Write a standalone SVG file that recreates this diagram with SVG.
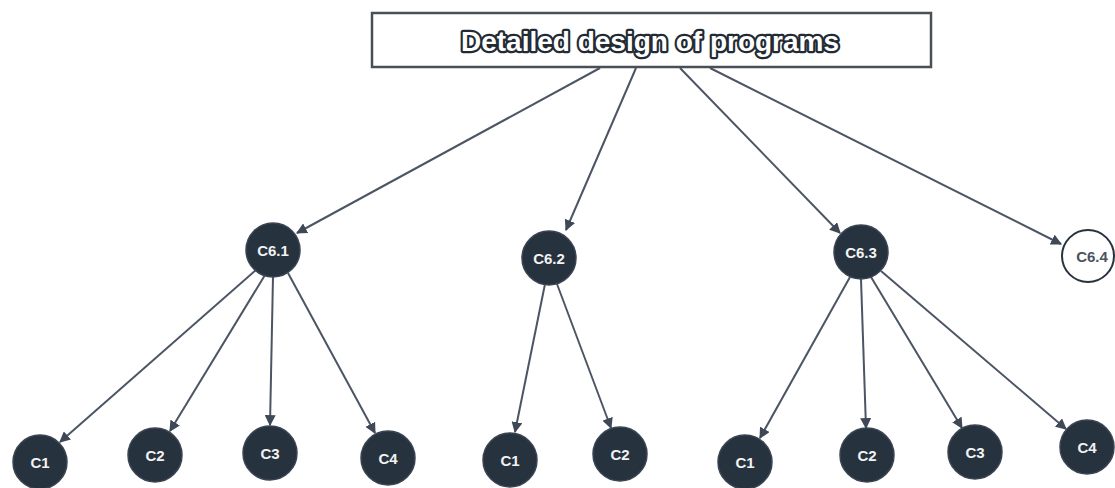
<svg xmlns="http://www.w3.org/2000/svg" width="1115" height="488" viewBox="0 0 1115 488">
<style>
.edge{stroke:#4b5563;stroke-width:2;fill:none;marker-end:url(#ah)}
.node{fill:#27323f;stroke:#3a4452;stroke-width:1.5}
.lbl{font-family:"Liberation Sans",Arial,sans-serif;font-weight:bold;font-size:15px;fill:#f2f2f2;text-anchor:middle;dominant-baseline:central}
.title{font-family:"Liberation Sans",Arial,sans-serif;font-weight:bold;font-size:28px;fill:#ffffff;stroke:#222a33;stroke-width:4.5;paint-order:stroke;stroke-linejoin:round;text-anchor:middle;dominant-baseline:central}
</style>
<defs>
<marker id="ah" viewBox="0 0 10 10" refX="9" refY="5" markerWidth="11" markerHeight="11" orient="auto" markerUnits="userSpaceOnUse">
<path d="M0,0 L10,5 L0,10 z" fill="#3f4856"/>
</marker>
</defs>
<rect width="1115" height="488" fill="#ffffff"/>
<g id="connectors">
<line class="edge" x1="600" y1="68" x2="297" y2="233"/>
<line class="edge" x1="636" y1="68" x2="566" y2="230"/>
<line class="edge" x1="680" y1="68" x2="840" y2="233"/>
<line class="edge" x1="710" y1="68" x2="1061" y2="244"/>
<line class="edge" x1="256" y1="270" x2="60" y2="442"/>
<line class="edge" x1="265" y1="275" x2="170" y2="431"/>
<line class="edge" x1="273" y1="277" x2="270" y2="425"/>
<line class="edge" x1="288" y1="273" x2="375" y2="433"/>
<line class="edge" x1="545" y1="284" x2="515" y2="432"/>
<line class="edge" x1="557" y1="284" x2="611" y2="428"/>
<line class="edge" x1="850" y1="277" x2="760" y2="438"/>
<line class="edge" x1="861" y1="279" x2="866" y2="428"/>
<line class="edge" x1="871" y1="277" x2="962" y2="428"/>
<line class="edge" x1="881" y1="271" x2="1066" y2="429"/>
</g>
<g id="root">
<rect x="372" y="13" width="559" height="54" fill="#ffffff" stroke="#4a4f57" stroke-width="2.5"/>
<text class="title" x="650" y="41">Detailed design of programs</text>
</g>
<g id="c61"><circle class="node" cx="273" cy="250" r="27"/><text class="lbl" x="273" y="250">C6.1</text></g>
<g id="c62"><circle class="node" cx="549" cy="258" r="27"/><text class="lbl" x="549" y="258">C6.2</text></g>
<g id="c63"><circle class="node" cx="861" cy="252" r="27"/><text class="lbl" x="861" y="252">C6.3</text></g>
<g id="c64"><circle cx="1088" cy="256" r="26" fill="#ffffff" stroke="#27323f" stroke-width="2"/><text class="lbl" x="1092" y="256" style="fill:#4b5360">C6.4</text></g>
<g id="a1"><circle class="node" cx="40" cy="462" r="27"/><text class="lbl" x="40" y="462">C1</text></g>
<g id="a2"><circle class="node" cx="155" cy="455" r="27"/><text class="lbl" x="155" y="455">C2</text></g>
<g id="a3"><circle class="node" cx="270" cy="453" r="27"/><text class="lbl" x="270" y="453">C3</text></g>
<g id="a4"><circle class="node" cx="388" cy="458" r="27"/><text class="lbl" x="388" y="458">C4</text></g>
<g id="b1"><circle class="node" cx="510" cy="460" r="27"/><text class="lbl" x="510" y="460">C1</text></g>
<g id="b2"><circle class="node" cx="620" cy="454" r="27"/><text class="lbl" x="620" y="454">C2</text></g>
<g id="d1"><circle class="node" cx="745" cy="462" r="27"/><text class="lbl" x="745" y="462">C1</text></g>
<g id="d2"><circle class="node" cx="867" cy="455" r="27"/><text class="lbl" x="867" y="455">C2</text></g>
<g id="d3"><circle class="node" cx="975" cy="452" r="27"/><text class="lbl" x="975" y="452">C3</text></g>
<g id="d4"><circle class="node" cx="1087" cy="447" r="27"/><text class="lbl" x="1087" y="447">C4</text></g>
</svg>
